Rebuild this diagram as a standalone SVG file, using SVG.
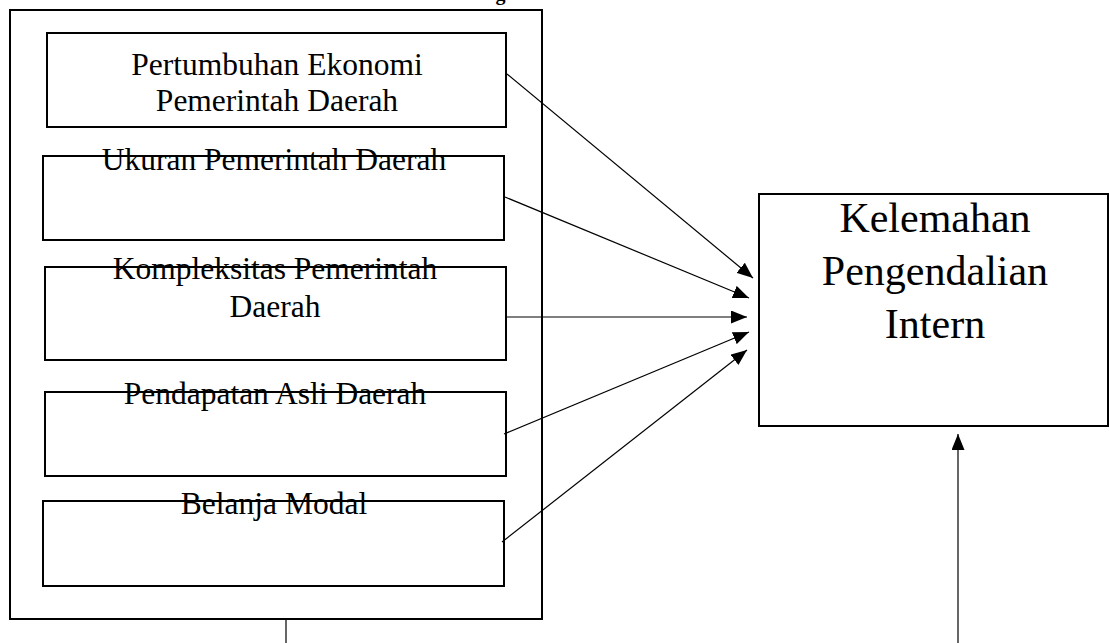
<svg xmlns="http://www.w3.org/2000/svg" width="1109" height="643" viewBox="0 0 1109 643">
<style>
.box{fill:none;stroke:#000;stroke-width:2}
.t{font-family:"Liberation Serif","Times New Roman",serif;font-size:31.5px;fill:#000;text-anchor:middle}
.tb{font-family:"Liberation Serif","Times New Roman",serif;font-size:42px;fill:#000;text-anchor:middle}
.c{stroke:#000;stroke-width:1.2;fill:none}
</style>
<defs>
<marker id="ah" markerUnits="userSpaceOnUse" markerWidth="16" markerHeight="13" refX="16" refY="6.5" orient="auto">
<path d="M0,0 L16,6.5 L0,13 z" fill="#000"/>
</marker>
</defs>
<rect width="1109" height="643" fill="#fff"/>
<text x="441" y="0" style="font-family:'Liberation Serif',serif;font-size:20px;font-weight:bold">Kerangka Teoritis</text>
<g id="outer"><rect class="box" x="10" y="10" width="532" height="609"/></g>
<g id="n1"><rect class="box" x="47" y="33" width="459" height="94"/>
<text class="t" x="277" y="75">Pertumbuhan Ekonomi</text>
<text class="t" x="277" y="111">Pemerintah Daerah</text></g>
<g id="n2"><rect class="box" x="43" y="156" width="461" height="84"/>
<text class="t" x="274" y="170">Ukuran Pemerintah Daerah</text></g>
<g id="n3"><rect class="box" x="45" y="267" width="461" height="93"/>
<text class="t" x="275" y="279">Kompleksitas Pemerintah</text>
<text class="t" x="275" y="317">Daerah</text></g>
<g id="n4"><rect class="box" x="45" y="392" width="461" height="84"/>
<text class="t" x="275" y="404">Pendapatan Asli Daerah</text></g>
<g id="n5"><rect class="box" x="43" y="501" width="461" height="85"/>
<text class="t" x="274" y="514">Belanja Modal</text></g>
<g id="target"><rect class="box" x="759" y="194" width="349" height="232"/>
<text class="tb" x="935" y="232">Kelemahan</text>
<text class="tb" x="935" y="285">Pengendalian</text>
<text class="tb" x="935" y="338">Intern</text></g>
<g id="connectors">
<line class="c" x1="507" y1="74" x2="753" y2="278" marker-end="url(#ah)"/>
<line class="c" x1="505" y1="197" x2="749" y2="298" marker-end="url(#ah)"/>
<line class="c" x1="506" y1="317" x2="747" y2="317" marker-end="url(#ah)"/>
<line class="c" x1="504" y1="434" x2="749" y2="332" marker-end="url(#ah)"/>
<line class="c" x1="502" y1="542" x2="747" y2="350" marker-end="url(#ah)"/>
<line class="c" x1="958" y1="643" x2="958" y2="434" marker-end="url(#ah)"/>
<line class="c" x1="286" y1="619" x2="286" y2="643"/>
</g>
</svg>
